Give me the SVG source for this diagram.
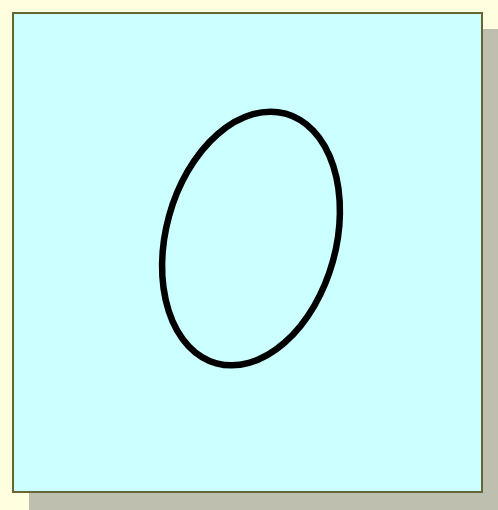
<svg xmlns="http://www.w3.org/2000/svg" width="498" height="510" viewBox="0 0 498 510">
<style>
.bg{fill:#FFFFE0}
.shadow{fill:#BFBFB0}
.panel{fill:#CCFFFF;stroke:#666633;stroke-width:2}
.shape{fill:none;stroke:#000;stroke-width:6.5}
</style>
<rect class="bg" x="0" y="0" width="498" height="510"/>
<rect class="shadow" x="29" y="29" width="469" height="481"/>
<rect class="panel" x="13" y="13" width="469" height="479"/>
<g id="ellipse">
<ellipse class="shape" cx="251" cy="238.5" rx="85" ry="129.5" transform="rotate(15.5 251 238.5)"/>
</g>
</svg>
